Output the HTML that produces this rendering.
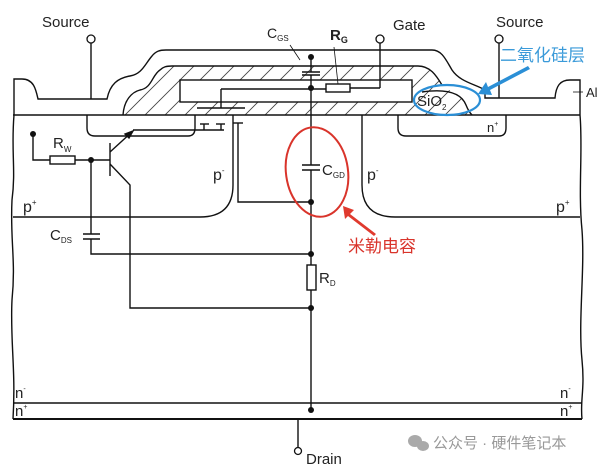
<!DOCTYPE html>
<html><head><meta charset="utf-8"><style>
html,body{margin:0;padding:0;background:#fff;}
svg{display:block;}
text{font-family:"Liberation Sans",Arial,sans-serif;fill:#222;}
</style></head><body>
<svg width="601" height="466" viewBox="0 0 601 466" xmlns="http://www.w3.org/2000/svg">
<defs>
<pattern id="h" width="20" height="20" patternUnits="userSpaceOnUse">
<line x1="0" y1="20" x2="20" y2="0" stroke="#444" stroke-width="0.9"/>
<line x1="-5" y1="5" x2="5" y2="-5" stroke="#444" stroke-width="0.9"/>
<line x1="15" y1="25" x2="25" y2="15" stroke="#444" stroke-width="0.9"/>
</pattern>
</defs>
<g fill="none" stroke="#111" stroke-width="1.4">
<path d="M123,115 C124,100 132,92 140,90 C152,88 152,75 160,70 C163,67 166,66 172,66 L418,66 C430,66 436,75 442,85 C450,92 462,95 466,105 C468,110 470,113 472,115 Z" fill="url(#h)" stroke="none"/>
<path d="M123,115 C124,100 132,92 140,90 C152,88 152,75 160,70 C163,67 166,66 172,66 L418,66 C430,66 436,75 442,85"/>
<path d="M422,92 C450,88 462,95 466,105 C468,110 470,113 472,115"/>
<rect x="180" y="80" width="232" height="22" fill="#fff"/>
<path d="M14,115 L14,79 L22,79 C34,79 36,90 38,99 L107,99 C110,84 118,78 130,76 C142,74 145,64 152,56 C156,51 160,50 166,50 L432,50 C442,50 446,60 452,70 C460,82 475,84 485,90 L485,98 L555,98 C556,86 560,80 570,80 L580,80 L580,115"/>
<line x1="13" y1="115" x2="580" y2="115"/>
<path d="M14,115 C11,150 16,170 12,200 C10,240 16,260 12,300 C10,340 16,370 13,419"/>
<path d="M580,115 C583,150 578,190 582,230 C585,270 578,320 582,360 C585,390 580,400 582,419"/>
<line x1="13" y1="403" x2="582" y2="403"/>
<line x1="13" y1="419" x2="582" y2="419" stroke-width="2"/>
<path d="M87,115 L87,128 Q87,136 95,136 L188,136 Q195,136 195,128 L195,115"/>
<path d="M398,115 L398,128 Q398,136 406,136 L499,136 Q506,136 506,128 L506,115"/>
<path d="M233,115 L233,185 Q233,217 200,217 L13,217"/>
<path d="M362,115 L362,185 Q362,217 395,217 L580,217"/>
<line x1="311" y1="57" x2="311" y2="72"/>
<line x1="302" y1="72" x2="320" y2="72"/>
<line x1="302" y1="75" x2="320" y2="75"/>
<line x1="311" y1="75" x2="311" y2="165"/>
<line x1="300" y1="60" x2="290" y2="45" stroke-width="0.8"/>
<line x1="221" y1="89" x2="326" y2="89"/>
<rect x="326" y="84" width="24" height="8"/>
<line x1="350" y1="88" x2="380" y2="88"/>
<line x1="380" y1="88" x2="380" y2="43"/>
<line x1="338" y1="84" x2="334" y2="47" stroke-width="0.8"/>
<line x1="221" y1="89" x2="221" y2="108"/>
<line x1="197" y1="108" x2="245" y2="108"/>
<line x1="91" y1="43" x2="91" y2="99"/>
<line x1="499" y1="43" x2="499" y2="98"/>
<line x1="573" y1="92" x2="583" y2="92" stroke-width="0.8"/>
<line x1="133" y1="130" x2="224" y2="130"/>
<line x1="200" y1="124" x2="209" y2="124"/><line x1="204" y1="124" x2="204" y2="130"/>
<line x1="216" y1="124" x2="225" y2="124"/><line x1="221" y1="124" x2="221" y2="130"/>
<line x1="233" y1="123" x2="243" y2="123"/>
<path d="M238,123 L238,202 L311,202"/>
<line x1="110" y1="143" x2="110" y2="176"/>
<line x1="110" y1="152" x2="133" y2="131"/>
<path d="M125,134 L133,131 L129,138 Z" fill="#111"/>
<path d="M110,164 L130,185 L130,308 L311,308"/>
<path d="M33,135 L33,160 L50,160"/>
<rect x="50" y="156" width="25" height="8"/>
<line x1="75" y1="160" x2="110" y2="160"/>
<line x1="91" y1="160" x2="91" y2="234"/>
<line x1="83" y1="234" x2="100" y2="234"/>
<line x1="83" y1="239" x2="100" y2="239"/>
<path d="M91,239 L91,254 L311,254"/>
<line x1="302" y1="165" x2="320" y2="165"/>
<line x1="302" y1="170" x2="320" y2="170"/>
<line x1="311" y1="170" x2="311" y2="265"/>
<rect x="307" y="265" width="9" height="25"/>
<line x1="311" y1="290" x2="311" y2="410"/>
<line x1="298" y1="419" x2="298" y2="447"/>
</g>
<g fill="#111">
<circle cx="311" cy="57" r="3"/><circle cx="311" cy="88" r="3"/>
<circle cx="311" cy="202" r="3"/><circle cx="311" cy="254" r="3"/>
<circle cx="311" cy="308" r="3"/><circle cx="311" cy="410" r="3"/>
<circle cx="33" cy="134" r="3"/><circle cx="91" cy="160" r="3"/>
</g>
<g fill="#fff" stroke="#111" stroke-width="1.3">
<circle cx="91" cy="39" r="4"/><circle cx="380" cy="39" r="4"/>
<circle cx="499" cy="39" r="4"/><circle cx="298" cy="451" r="3.5"/>
</g>
<ellipse cx="317" cy="172" rx="31" ry="45" fill="none" stroke="#d9342b" stroke-width="2" transform="rotate(-8 317 172)"/>
<path d="M343,206 L354,210 L350,214 L376,234 L374,236 L348,216 L345,219 Z" fill="#e03a2e"/>
<ellipse cx="447" cy="100" rx="33" ry="15" fill="none" stroke="#2b8fd6" stroke-width="2.2"/>
<path d="M478,94 L486,82 L488,87 L528,66 L530,69 L490,90 L492,95 Z" fill="#2b8fd6"/>
<text x="42" y="27" font-size="15">Source</text>
<text x="393" y="30" font-size="15">Gate</text>
<text x="496" y="27" font-size="15">Source</text>
<text x="267" y="38" font-size="14">C<tspan font-size="8" dy="3">GS</tspan></text>
<text x="330" y="40" font-size="15" font-weight="bold">R<tspan font-size="9" dy="3">G</tspan></text>
<text x="586" y="97" font-size="13">Al</text>
<text x="417" y="106" font-size="15">SiO<tspan font-size="8" dy="4">2</tspan></text>
<text x="487" y="132" font-size="13">n<tspan font-size="7" dy="-6">+</tspan></text>
<text x="53" y="148" font-size="15">R<tspan font-size="8" dy="4">W</tspan></text>
<text x="213" y="180" font-size="16">p<tspan font-size="8" dy="-7">-</tspan></text>
<text x="367" y="180" font-size="16">p<tspan font-size="8" dy="-7">-</tspan></text>
<text x="23" y="212" font-size="16">p<tspan font-size="8" dy="-7">+</tspan></text>
<text x="556" y="212" font-size="16">p<tspan font-size="8" dy="-7">+</tspan></text>
<text x="322" y="175" font-size="15">C<tspan font-size="8" dy="3">GD</tspan></text>
<text x="50" y="240" font-size="15">C<tspan font-size="8" dy="3">DS</tspan></text>
<text x="319" y="283" font-size="15">R<tspan font-size="8" dy="3">D</tspan></text>
<text x="15" y="398" font-size="15">n<tspan font-size="7" dy="-7">-</tspan></text>
<text x="560" y="398" font-size="15">n<tspan font-size="7" dy="-7">-</tspan></text>
<text x="15" y="416" font-size="15">n<tspan font-size="7" dy="-7">+</tspan></text>
<text x="560" y="416" font-size="15">n<tspan font-size="7" dy="-7">+</tspan></text>
<text x="306" y="464" font-size="15">Drain</text>
<text x="348" y="252" font-size="17" style="fill:#d9342b;font-family:'Liberation Sans','Noto Sans CJK SC',sans-serif">米勒电容</text>
<text x="500" y="61" font-size="17" style="fill:#3a9ad9;font-family:'Liberation Sans','Noto Sans CJK SC',sans-serif">二氧化硅层</text>
<g fill="#aaa"><ellipse cx="415" cy="441" rx="7" ry="6"/><ellipse cx="423" cy="446" rx="6" ry="5"/></g>
<text x="433" y="448" font-size="15" style="fill:#999;font-family:'Liberation Sans','Noto Sans CJK SC',sans-serif">公众号 · 硬件笔记本</text>
</svg>
</body></html>
